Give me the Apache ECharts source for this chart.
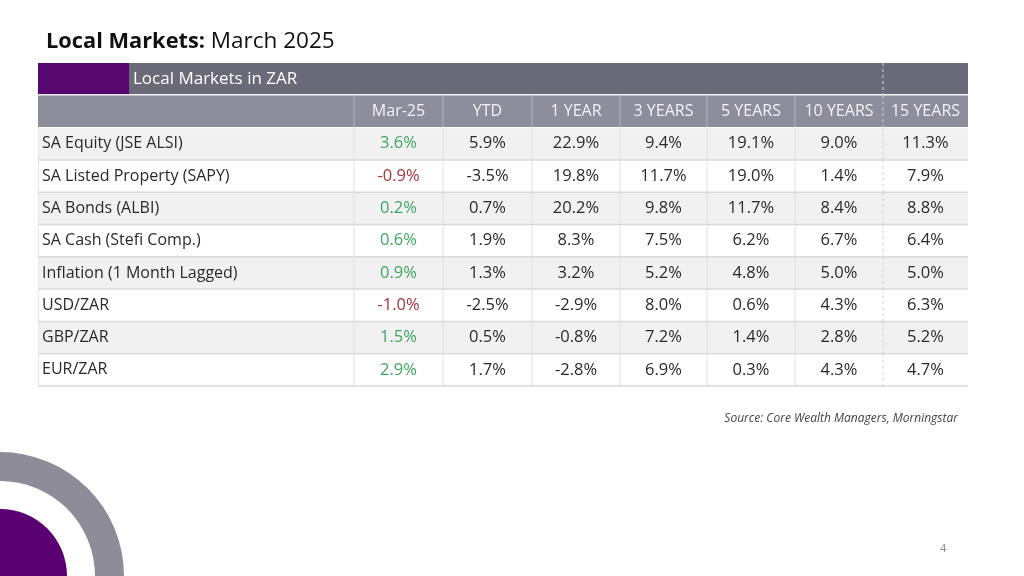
<!DOCTYPE html>
<html>
<head>
<meta charset="utf-8">
<script src="https://cdn.jsdelivr.net/npm/echarts/dist/echarts.min.js"></script>
<style>html,body{margin:0;padding:0;background:#fff}#chart{width:1024px;height:576px}</style>
</head>
<body>
<div id="chart"></div>
<script>
// ---- data ----
const rowLabels = ['SA Equity (JSE ALSI)', 'SA Listed Property (SAPY)', 'SA Bonds (ALBI)', 'SA Cash (Stefi Comp.)', 'Inflation (1 Month Lagged)', 'USD/ZAR', 'GBP/ZAR', 'EUR/ZAR'];
const columns = ['Mar-25', 'YTD', '1 YEAR', '3 YEARS', '5 YEARS', '10 YEARS', '15 YEARS'];
const mar25 = [3.6, -0.9, 0.2, 0.6, 0.9, -1.0, 1.5, 2.9];
const ytd = [5.9, -3.5, 0.7, 1.9, 1.3, -2.5, 0.5, 1.7];
const year1 = [22.9, 19.8, 20.2, 8.3, 3.2, -2.9, -0.8, -2.8];
const years3 = [9.4, 11.7, 9.8, 7.5, 5.2, 8.0, 7.2, 6.9];
const years5 = [19.1, 19.0, 11.7, 6.2, 4.8, 0.6, 1.4, 0.3];
const years10 = [9.0, 1.4, 8.4, 6.7, 5.0, 4.3, 2.8, 4.3];
const years15 = [11.3, 7.9, 8.8, 6.4, 5.0, 6.3, 5.2, 4.7];
const titleBold = 'Local Markets:';
const titleRest = 'March 2025';
const bandTitle = 'Local Markets in ZAR';
const sourceText = 'Source: Core Wealth Managers, Morningstar';
const pageNumber = '4';

// ---- layout ----
const valueCols = [mar25, ytd, year1, years3, years5, years10, years15];
const colEdges = [0, 316, 405, 494, 582, 669, 757, 845, 930];
const accentWidth = 91;
const FONT = '"Open Sans", "Noto Sans", sans-serif';
const yCats = ['band', 'head'].concat(rowLabels);

const cells = [[0, 0]];
for (let c = 0; c < 8; c++) cells.push([c, 1]);
for (let r = 0; r < rowLabels.length; r++) for (let c = 0; c < 8; c++) cells.push([c, r + 2]);

function fmt(v) { return v.toFixed(1) + '%'; }

function renderItem(params, api) {
  const c = api.value(0), r = api.value(1);
  const h = api.size([0, 1])[1];
  const yc = api.coord([0, r])[1];
  const top = yc - h / 2;
  const kids = [];
  const dashX = api.coord([colEdges[7], r])[0];
  if (r === 0) {
    const xa = api.coord([colEdges[0], r])[0];
    const xb = api.coord([colEdges[8], r])[0];
    const xp = api.coord([accentWidth, r])[0];
    kids.push({type: 'rect', shape: {x: xa, y: top, width: xb - xa, height: h - 1}, style: {fill: '#6b6a78'}, z2: 0});
    kids.push({type: 'rect', shape: {x: xa, y: top, width: xp - xa, height: h - 1}, style: {fill: '#56086e'}, z2: 1});
    kids.push({type: 'text', x: xp + 4, y: yc, style: {text: bandTitle, fill: '#ffffff', font: '17px ' + FONT, verticalAlign: 'middle', align: 'left'}, z2: 10});
    kids.push({type: 'line', shape: {x1: dashX, y1: top, x2: dashX, y2: top + h}, style: {stroke: '#d4d4dc', lineWidth: 1, lineDash: [3, 3]}, z2: 6});
    kids.push({type: 'line', shape: {x1: xa, y1: top + h - 0.5, x2: xb, y2: top + h - 0.5}, style: {stroke: '#ffffff', lineWidth: 1}, z2: 5});
    return {type: 'group', children: kids};
  }
  const x0 = api.coord([colEdges[c], r])[0];
  const x1 = api.coord([colEdges[c + 1], r])[0];
  const isHead = r === 1;
  const i = r - 2;
  const bg = isHead ? '#8e8d9b' : (i % 2 === 0 ? '#f1f1f1' : '#ffffff');
  kids.push({type: 'rect', shape: {x: x0, y: top, width: x1 - x0, height: h}, style: {fill: bg}, z2: 0});
  kids.push({type: 'line', shape: {x1: x0, y1: top + h, x2: x1, y2: top + h}, style: {stroke: isHead ? '#ffffff' : '#d9d9d9', lineWidth: isHead ? 1 : 1.5}, z2: 5});
  if (c < 6) {
    kids.push({type: 'line', shape: {x1: x1, y1: top, x2: x1, y2: top + h}, style: {stroke: isHead ? '#b4b3be' : '#e0e0e0', lineWidth: 1}, z2: 5});
  }
  if (c === 7) {
    kids.push({type: 'line', shape: {x1: x0, y1: top, x2: x0, y2: top + h}, style: {stroke: isHead ? '#d4d4dc' : '#cfcfcf', lineWidth: 1, lineDash: [3, 3]}, z2: 6});
  }
  if (c === 0 && !isHead) {
    kids.push({type: 'line', shape: {x1: x0 + 0.5, y1: top, x2: x0 + 0.5, y2: top + h}, style: {stroke: '#e6e6e6', lineWidth: 1}, z2: 5});
  }
  let text = '', fill = '#2a2a2a', align = 'center', tx = (x0 + x1) / 2, size = 16.5;
  if (isHead) {
    if (c > 0) text = columns[c - 1];
    fill = '#f2f2f6'; size = 16;
  } else if (c === 0) {
    text = rowLabels[i]; align = 'left'; tx = x0 + 4; size = 16;
  } else {
    const v = valueCols[c - 1][i];
    text = fmt(v);
    if (c === 1) fill = v >= 0 ? '#3ea561' : '#a8333b';
  }
  if (text) {
    kids.push({type: 'text', x: tx, y: yc, style: {text: text, fill: fill, font: size + 'px ' + FONT, align: align, verticalAlign: 'middle'}, z2: 10});
  }
  return {type: 'group', children: kids};
}

const chart = echarts.init(document.getElementById('chart'));
chart.setOption({
  animation: false,
  grid: {left: 38, right: 56, top: 63, bottom: 190},
  xAxis: {type: 'value', min: 0, max: 930, show: false},
  yAxis: {type: 'category', data: yCats, inverse: true, show: false},
  graphic: [
    {type: 'text', left: 46, top: 30, style: {text: '{b|' + titleBold + '}{n| ' + titleRest + '}', rich: {b: {font: 'bold 21.8px ' + FONT, fill: '#111111'}, n: {font: '22.5px ' + FONT, fill: '#111111'}}}},
    {type: 'text', right: 66, top: 413, style: {text: sourceText, font: 'italic 12px ' + FONT, fill: '#444444'}},
    {type: 'text', left: 940, top: 543, style: {text: pageNumber, font: '11px ' + FONT, fill: '#8a8a8a'}},
    {type: 'ring', shape: {cx: 0, cy: 576, r: 124, r0: 95}, style: {fill: '#8d8c98'}},
    {type: 'circle', shape: {cx: 0, cy: 576, r: 67}, style: {fill: '#5a0072'}}
  ],
  series: [{type: 'custom', coordinateSystem: 'cartesian2d', renderItem: renderItem, data: cells, clip: false, silent: true}]
});
</script>
</body>
</html>
